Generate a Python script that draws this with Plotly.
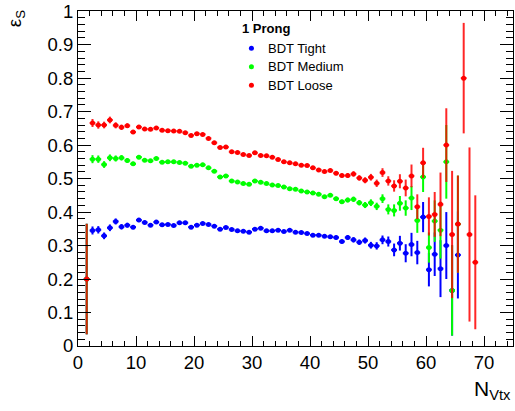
import plotly.graph_objects as go

# N_Vtx bins (width 1), centres at 1.5 ... 68.5
bin_centers = [b + 0.5 for b in range(1, 69)]
bin_half_width = [0.5] * len(bin_centers)

x_tick_vals = [0, 10, 20, 30, 40, 50, 60, 70]
x_tick_text = ["0", "10", "20", "30", "40", "50", "60", "70"]
y_tick_vals = [0, 0.1, 0.2, 0.3, 0.4, 0.5, 0.6, 0.7, 0.8, 0.9, 1.0]
y_tick_text = ["0", "0.1", "0.2", "0.3", "0.4", "0.5", "0.6", "0.7", "0.8", "0.9", "1"]

# None = point hidden behind the Loose point in the reference
eff_tight = [0.200, 0.345, 0.347, 0.329, 0.353, 0.372, 0.356, 0.361, 0.355, 0.376,
             0.369, 0.361, 0.370, 0.362, 0.363, 0.360, 0.368, 0.368, 0.355, 0.361,
             0.366, 0.363, 0.358, 0.349, 0.354, 0.348, 0.344, 0.343, 0.340, 0.349,
             0.352, 0.344, 0.344, 0.346, 0.342, 0.346, 0.340, 0.339, 0.336, 0.331,
             0.331, 0.328, 0.326, 0.324, 0.312, 0.324, 0.317, 0.310, 0.315, 0.301,
             0.299, 0.317, 0.312, 0.287, 0.307, 0.277, 0.303, 0.279, 0.385, 0.228,
             0.274, 0.231, 0.300, 0.166, 0.272, None, None, None]

eff_medium = [0.200, 0.558, 0.558, 0.542, 0.562, 0.560, 0.562, 0.554, 0.544, 0.564,
              0.555, 0.553, 0.560, 0.549, 0.550, 0.550, 0.548, 0.546, 0.537, 0.540,
              0.541, 0.532, 0.522, 0.505, 0.508, 0.493, 0.490, 0.485, 0.483, 0.493,
              0.489, 0.485, 0.481, 0.479, 0.475, 0.470, 0.468, 0.463, 0.460, 0.457,
              0.453, 0.446, 0.450, 0.440, 0.431, 0.436, 0.438, 0.428, 0.421, 0.428,
              0.417, 0.440, 0.408, 0.405, 0.426, 0.412, 0.442, 0.375, 0.505, 0.294,
              0.373, 0.346, 0.550, 0.166, 0.364, None, None, None]

eff_loose = [0.200, 0.666, 0.660, 0.660, 0.675, 0.659, 0.653, 0.658, 0.639, 0.654,
             0.648, 0.647, 0.651, 0.644, 0.643, 0.642, 0.641, 0.637, 0.629, 0.634,
             0.632, 0.620, 0.607, 0.593, 0.594, 0.580, 0.578, 0.572, 0.569, 0.577,
             0.569, 0.568, 0.564, 0.557, 0.550, 0.547, 0.544, 0.540, 0.539, 0.532,
             0.526, 0.521, 0.524, 0.516, 0.509, 0.509, 0.514, 0.502, 0.495, 0.504,
             0.486, 0.518, 0.493, 0.478, 0.492, 0.472, 0.508, 0.416, 0.547, 0.387,
             0.393, 0.423, 0.600, 0.333, 0.364, 0.800, 0.333, 0.250]

err_core = [0.165, 0.012, 0.011, 0.010, 0.010, 0.009, 0.008, 0.007, 0.006, 0.006,
            0.005, 0.005, 0.004, 0.004, 0.004, 0.004, 0.004, 0.004, 0.004, 0.004,
            0.004, 0.004, 0.004, 0.004, 0.004, 0.004, 0.004, 0.004, 0.004, 0.004,
            0.004, 0.004, 0.004, 0.004, 0.004, 0.004, 0.004, 0.004, 0.004, 0.004,
            0.005, 0.005, 0.005, 0.006, 0.006, 0.007, 0.008, 0.008, 0.009, 0.010]

err_tight = err_core + [0.011, 0.013, 0.015, 0.019, 0.022, 0.027, 0.035, 0.035, 0.045, 0.050,
                        0.065, 0.085, 0.100, 0.135, 0.130, 0.165, 0.260, 0.200]
err_medium = err_core + [0.011, 0.013, 0.015, 0.018, 0.022, 0.023, 0.036, 0.037, 0.045, 0.045,
                         0.062, 0.085, 0.110, 0.135, 0.145, 0.165, 0.260, 0.200]
err_loose = err_core + [0.011, 0.013, 0.014, 0.017, 0.021, 0.025, 0.034, 0.037, 0.045, 0.057,
                        0.067, 0.095, 0.110, 0.190, 0.145, 0.165, 0.260, 0.200]

series_names = ["BDT Tight", "BDT Medium", "BDT Loose"]
series_vals = [eff_tight, eff_medium, eff_loose]
series_errs = [err_tight, err_medium, err_loose]
marker_colors = ["#0000ff", "#00ff00", "#ff0000"]
bar_colors = ["#0000ff", "#00ff00", "rgba(255,0,0,0.85)"]

legend_title = "<b>1 Prong</b>"
x_title = "N<sub>Vtx</sub>"
y_title = "ε<sub>S</sub>"

FONT = "Liberation Sans, Arial, Helvetica, sans-serif"

fig = go.Figure()
for name, vals, errs, mc, bc in zip(series_names, series_vals, series_errs, marker_colors, bar_colors):
    fig.add_trace(go.Scatter(
        x=bin_centers, y=vals, mode="markers", name=name,
        marker=dict(color=mc, size=5, symbol="circle"),
        error_y=dict(type="data", array=errs, visible=True, color=bc, thickness=2, width=0),
        error_x=dict(type="data", array=bin_half_width, visible=True, color=bc, thickness=2, width=0),
        showlegend=False,
    ))

axis_common = dict(
    showline=True, linecolor="black", linewidth=1, mirror="ticks",
    ticks="inside", tickcolor="black", tickwidth=1,
    showgrid=False, zeroline=False, ticklabeloverflow="allow",
    tickfont=dict(family=FONT, size=18.5, color="black"),
)

fig.update_xaxes(range=[0, 75], tickmode="array", tickvals=x_tick_vals, ticktext=x_tick_text,
                 ticklen=10,
                 minor=dict(tickmode="linear", tick0=0, dtick=2, ticklen=5, ticks="inside",
                            tickcolor="black", tickwidth=1),
                 **axis_common)
fig.update_yaxes(range=[0, 1.0005], tickmode="array", tickvals=y_tick_vals, ticktext=y_tick_text,
                 ticklen=13,
                 minor=dict(tickmode="linear", tick0=0, dtick=0.02, ticklen=7, ticks="inside",
                            tickcolor="black", tickwidth=1),
                 **axis_common)

# legend drawn by hand (ROOT TLegend style)
leg_x_marker = 29.9
leg_x_text = 32.4
leg_rows_y = [0.889, 0.834, 0.779]
annotations = [
    dict(x=28.0, y=0.949, xref="x", yref="y", text=legend_title, showarrow=False,
         xanchor="left", yanchor="middle", font=dict(family=FONT, size=13, color="black")),
    dict(x=1.0, y=-0.132, xref="paper", yref="paper", text=x_title, showarrow=False,
         xanchor="right", yanchor="middle", font=dict(family=FONT, size=21, color="black")),
    dict(x=-0.142, y=0.976, xref="paper", yref="paper", text=y_title, showarrow=False,
         textangle=-90, xanchor="center", yanchor="middle",
         font=dict(family=FONT, size=19, color="black")),
]
shapes = []
for name, mc, yy in zip(series_names, marker_colors, leg_rows_y):
    annotations.append(dict(x=leg_x_text, y=yy, xref="x", yref="y", text=name, showarrow=False,
                            xanchor="left", yanchor="middle",
                            font=dict(family=FONT, size=13, color="black")))
    shapes.append(dict(type="circle", xref="x", yref="y", xsizemode="pixel", ysizemode="pixel",
                       xanchor=leg_x_marker, yanchor=yy, x0=-2.5, x1=2.5, y0=-2.5, y1=2.5,
                       fillcolor=mc, line=dict(width=0)))

fig.update_layout(
    width=515, height=411,
    margin=dict(l=78, r=1, t=9, b=65),
    plot_bgcolor="white", paper_bgcolor="white",
    font=dict(family=FONT, color="black"),
    showlegend=False,
    annotations=annotations, shapes=shapes,
)

fig.write_html("out.html")
